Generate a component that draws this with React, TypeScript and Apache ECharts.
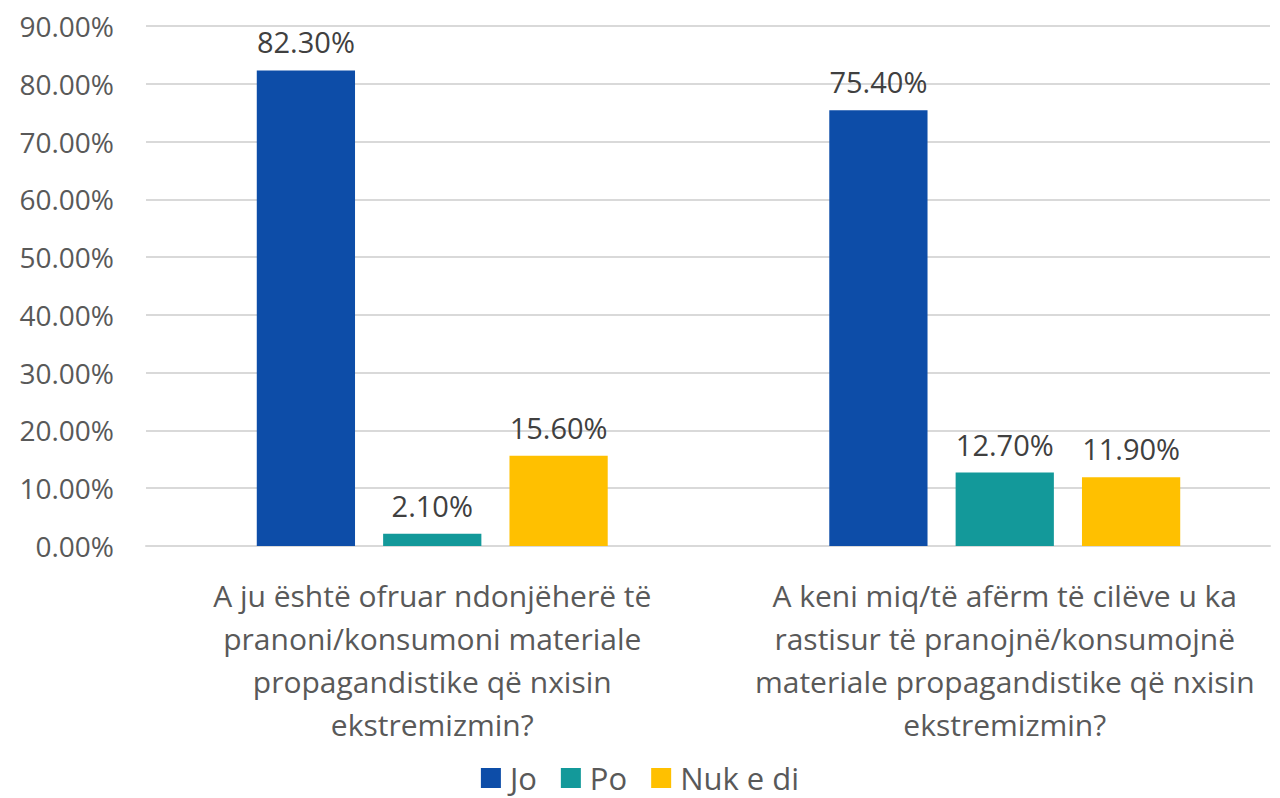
import React, { useEffect, useRef } from "react";
import * as echarts from "echarts";

const categories = [
  "A ju është ofruar ndonjëherë të\npranoni/konsumoni materiale\npropagandistike që nxisin\nekstremizmin?",
  "A keni miq/të afërm të cilëve u ka\nrastisur të pranojnë/konsumojnë\nmateriale propagandistike që nxisin\nekstremizmin?",
];
const seriesNames = ["Jo", "Po", "Nuk e di"];
const joValues = [82.3, 75.4];
const poValues = [2.1, 12.7];
const nukValues = [15.6, 11.9];
const yTicks = { min: 0, max: 90, step: 10 };
const colors = ["#0D4DA8", "#13999A", "#FFC000"];

const FONT = "'Open Sans', 'Noto Sans', sans-serif";

export default function App() {
  const ref = useRef<HTMLDivElement>(null);
  useEffect(() => {
    if (!ref.current) return;
    const chart = echarts.init(ref.current, undefined, { renderer: "svg" });
    const values = [joValues, poValues, nukValues];
    chart.setOption({
      animation: false,
      textStyle: { fontFamily: FONT },
      grid: [
        { left: 146, right: 10, top: 26, bottom: 252, containLabel: false, outerBoundsMode: "none" },
        { left: 146, width: 1145, top: 26, bottom: 252, containLabel: false, outerBoundsMode: "none" },
      ],
      legend: {
        top: 756,
        left: "center",
        itemWidth: 20,
        itemHeight: 20,
        itemGap: 24,
        icon: "rect",
        textStyle: {
          fontSize: 31,
          color: "#595959",
          fontFamily: FONT,
          lineHeight: 34,
          padding: [0, 0, 0, 4],
        },
        data: seriesNames,
      },
      xAxis: [
        {
          type: "category",
          gridIndex: 0,
          data: categories,
          axisLine: { show: true, lineStyle: { color: "#D9D9D9", width: 2 } },
          axisTick: { show: false },
          axisLabel: { show: false },
        },
        {
          type: "category",
          gridIndex: 1,
          data: categories,
          axisLine: { show: false },
          axisTick: { show: false },
          axisLabel: {
            color: "#595959",
            fontSize: 30,
            lineHeight: 43,
            margin: 28,
            interval: 0,
            fontFamily: FONT,
          },
        },
      ],
      yAxis: [
        {
          type: "value",
          gridIndex: 0,
          min: yTicks.min,
          max: yTicks.max,
          interval: yTicks.step,
          axisLine: { show: false },
          axisTick: { show: false },
          splitLine: { lineStyle: { color: "#D9D9D9", width: 2 } },
          axisLabel: {
            color: "#595959",
            fontSize: 28,
            margin: 32,
            fontFamily: FONT,
            formatter: (v: number) => v.toFixed(2) + "%",
          },
        },
        {
          type: "value",
          gridIndex: 1,
          min: yTicks.min,
          max: yTicks.max,
          interval: yTicks.step,
          show: false,
        },
      ],
      series: seriesNames.map((name, i) => ({
        name,
        type: "bar",
        xAxisIndex: 1,
        yAxisIndex: 1,
        data: values[i],
        barGap: "28.6%",
        barCategoryGap: "38.7%",
        itemStyle: { color: colors[i] },
        label: {
          show: true,
          position: "top",
          distance: 14,
          color: "#404040",
          fontSize: 29,
          fontFamily: FONT,
          formatter: (p: any) => p.value.toFixed(2) + "%",
        },
      })),
    });
    return () => chart.dispose();
  }, []);
  return (
    <div
      ref={ref}
      style={{ position: "absolute", left: 0, top: 0, width: 1280, height: 798 }}
    />
  );
}
